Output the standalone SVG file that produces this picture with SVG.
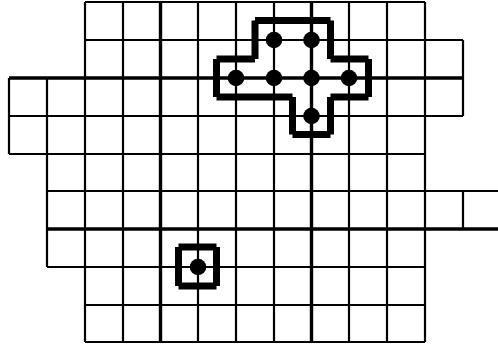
<svg xmlns="http://www.w3.org/2000/svg" width="498" height="345" viewBox="0 0 498 345">
<style>
.g{stroke:#000;stroke-width:2.2;fill:none}
.t{stroke:#000;stroke-width:3.4;fill:none}
.o{stroke:#000;stroke-width:7;fill:none;stroke-linecap:butt}
.d{fill:#000}
</style>
<rect width="498" height="345" fill="#fff"/>
<g id="grid">
<path class="g" d="M85 2H425M85 40H463M9 116H463M9 154H425M47 191H500M47 267H425M85 305H425M85 342H425"/>
<path class="t" d="M9 78H463M47 229H500"/>
<path class="g" d="M9 78V154M47 78V267M85 2V342M123 2V342M198 2V342M236 2V342M274 2V342M349 2V342M387 2V342M425 2V342M463 40V116M463 191V229"/>
<path class="t" d="M160.5 2V342M311.5 2V342"/>
</g>
<g id="cross">
<path class="o" d="M255 20.5H330.5M330.5 20.5V59M330.5 59H368.5M368.5 59V97M368.5 97H330.5M330.5 97V134.5M330.5 134.5H292.5M292.5 134.5V97M292.5 97H216.5M216.5 97V59M216.5 59H255M255 59V20.5"/>
<circle class="d" cx="274" cy="40" r="8.3"/>
<circle class="d" cx="311.5" cy="40" r="8.3"/>
<circle class="d" cx="236" cy="78" r="8.3"/>
<circle class="d" cx="274" cy="78" r="8.3"/>
<circle class="d" cx="311.5" cy="78" r="8.3"/>
<circle class="d" cx="349" cy="78" r="8.3"/>
<circle class="d" cx="311.5" cy="116" r="8.3"/>
</g>
<g id="single">
<path class="o" d="M178.5 247H216.5M216.5 247V286M216.5 286H178.5M178.5 286V247"/>
<circle class="d" cx="198" cy="267" r="8.3"/>
</g>
</svg>
